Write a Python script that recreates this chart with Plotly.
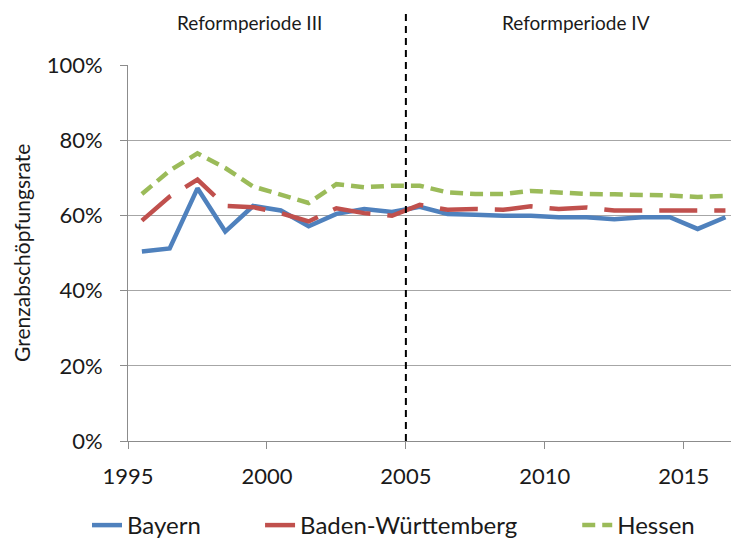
import plotly.graph_objects as go

years = list(range(1995, 2017))
bayern = [50.4, 51.2, 67.2, 55.7, 62.5, 61.3, 57.1, 60.4, 61.7, 60.9, 62.3,
          60.4, 60.2, 59.9, 59.9, 59.5, 59.5, 59.0, 59.5, 59.5, 56.4, 59.5]
baden_wuerttemberg = [58.6, 65.0, 69.5, 62.5, 62.2, 60.6, 58.4, 61.9, 60.6, 59.9, 62.8,
                      61.5, 61.7, 61.5, 62.4, 61.7, 62.1, 61.3, 61.3, 61.3, 61.3, 61.3]
hessen = [65.7, 71.9, 76.5, 72.6, 67.7, 65.5, 63.3, 68.3, 67.5, 67.9, 67.9,
          66.1, 65.7, 65.7, 66.5, 66.1, 65.7, 65.6, 65.5, 65.3, 64.9, 65.2]
period_split = 2005
period_labels = ["Reformperiode III", "Reformperiode IV"]

# points sit in the middle of each year
x = [y + 0.5 for y in years]

FONT = "Lato"
TXT = "#1a1a1a"

fig = go.Figure()
fig.add_trace(go.Scatter(x=x, y=bayern, mode="lines", name="Bayern", legend="legend",
                         line=dict(color="#4F81BD", width=4.5)))
fig.add_trace(go.Scatter(x=x, y=baden_wuerttemberg, mode="lines", name="Baden-Württemberg",
                         legend="legend2",
                         line=dict(color="#C0504D", width=4.5, dash="38px,17px")))
fig.add_trace(go.Scatter(x=x, y=hessen, mode="lines", name="Hessen", legend="legend3",
                         line=dict(color="#9BBB59", width=4.5, dash="13px,7px")))

fig.add_shape(type="line", xref="x", yref="paper", x0=period_split, x1=period_split,
              y0=0, y1=1.1485, line=dict(color="black", width=2, dash="7px,5px"))

for lbl, px in zip(period_labels, [0.2023, 0.743]):
    fig.add_annotation(text=lbl, xref="paper", yref="paper", x=px, y=1.114,
                       xanchor="center", yanchor="middle", showarrow=False,
                       font=dict(family=FONT, size=19, color=TXT))
fig.add_annotation(text="Grenzabschöpfungsrate", xref="paper", yref="paper",
                   x=-0.1775, y=0.5, textangle=-90, xanchor="center", yanchor="middle",
                   showarrow=False, font=dict(family=FONT, size=21, color=TXT))

leg = dict(orientation="h", y=-0.226, yanchor="middle", xanchor="left",
           font=dict(family=FONT, size=24, color=TXT), bgcolor="rgba(0,0,0,0)")

fig.update_layout(
    width=731, height=548,
    margin=dict(l=128, r=0, t=65, b=106),
    plot_bgcolor="white", paper_bgcolor="white",
    font=dict(family=FONT, size=22, color=TXT),
    showlegend=True,
    legend=dict(leg, x=-0.068),
    legend2=dict(leg, x=0.219),
    legend3=dict(leg, x=0.745),
    xaxis=dict(range=[1995, 2016.70], tick0=1995, dtick=5, showgrid=False,
               showline=True, linecolor="#8c8c8c", linewidth=1,
               ticks="outside", ticklen=7, tickcolor="#8c8c8c",
               ticklabelstandoff=9, zeroline=False),
    yaxis=dict(range=[0, 100], dtick=20, ticksuffix="%", showgrid=True,
               gridcolor="#a6a6a6", gridwidth=1, showline=True, linecolor="#8c8c8c",
               ticks="outside", ticklen=7, tickcolor="#8c8c8c",
               ticklabelstandoff=13, zeroline=False),
)

fig.write_html("out.html", config={"displayModeBar": False},
               post_script="document.body.style.margin='0px';")
